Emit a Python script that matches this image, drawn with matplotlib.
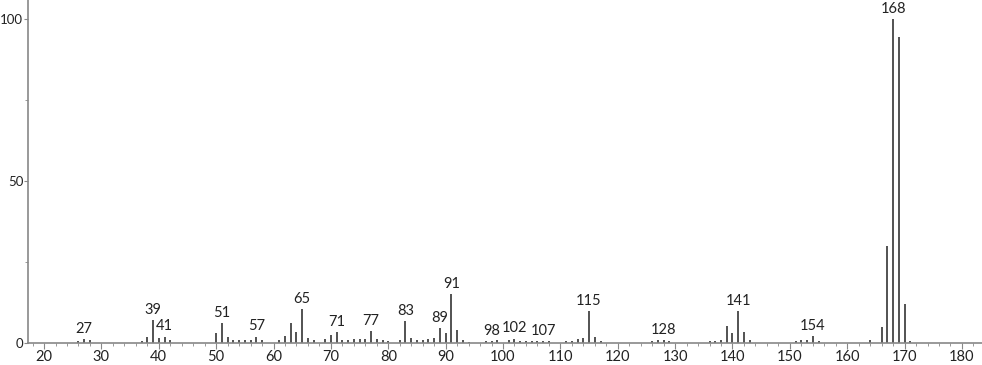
import matplotlib.pyplot as plt
from matplotlib.ticker import MultipleLocator

plt.rcParams['font.family'] = ['Lato', 'DejaVu Sans']

# m/z and relative intensity (%)
mz = [26, 27, 28, 37, 38, 39, 40, 41, 42,
      50, 51, 52, 53, 54, 55, 56, 57, 58,
      61, 62, 63, 64, 65, 66, 67,
      69, 70, 71, 72, 73, 74, 75, 76, 77, 78, 79, 80,
      82, 83, 84, 85, 86, 87, 88, 89, 90, 91, 92, 93, 94,
      97, 98, 99, 101, 102, 103, 104, 105, 106, 107, 108,
      111, 112, 113, 114, 115, 116, 117,
      126, 127, 128, 129,
      136, 137, 138, 139, 140, 141, 142, 143,
      151, 152, 153, 154, 155,
      164, 166, 167, 168, 169, 170, 171]
intensity = [0.8, 1.3, 0.9, 0.5, 1.8, 7.1, 1.5, 2.0, 0.9,
             3.2, 6.2, 1.8, 1.0, 0.9, 0.9, 1.0, 2.0, 0.9,
             1.0, 2.2, 6.3, 3.4, 10.5, 1.5, 0.9,
             1.4, 2.4, 3.4, 0.9, 0.9, 1.4, 1.4, 1.4, 3.6, 1.4, 0.9, 0.5,
             1.0, 6.8, 1.5, 0.9, 1.0, 1.4, 1.5, 4.6, 3.0, 15.1, 3.9, 0.9, 0.4,
             0.5, 0.5, 0.9, 0.9, 1.4, 0.5, 0.5, 0.5, 0.5, 0.5, 0.5,
             0.5, 0.5, 1.4, 1.5, 9.9, 2.0, 0.5,
             0.5, 0.9, 1.0, 0.5,
             0.5, 0.5, 1.0, 5.2, 3.0, 9.9, 3.4, 1.0,
             0.5, 0.9, 0.9, 2.2, 0.5,
             1.0, 4.9, 30.0, 100.0, 94.4, 12.0, 0.8]

labelled = [27, 39, 41, 51, 57, 65, 71, 77, 83, 89, 91, 98, 102, 107,
            115, 128, 141, 154, 168]

fig = plt.figure(figsize=(9.82, 3.65), dpi=100)
ax = fig.add_axes([0.0285, 0.060, 0.9715, 0.94])

ax.vlines(mz, 0, intensity, color='#444444', linewidth=1.3)

peaks = dict(zip(mz, intensity))
for m in labelled:
    ax.text(m, peaks[m] + 1.0, str(m), ha='center', va='bottom',
            fontsize=10.5, color='#222222')

ax.set_xlim(17.2, 183.5)
ax.set_ylim(0, 105.9)

ax.xaxis.set_major_locator(MultipleLocator(10))
ax.xaxis.set_minor_locator(MultipleLocator(2))
ax.yaxis.set_major_locator(MultipleLocator(50))
ax.yaxis.set_minor_locator(MultipleLocator(25))

for s in ['top', 'right']:
    ax.spines[s].set_visible(False)
for s in ['left', 'bottom']:
    ax.spines[s].set_color('#888888')
    ax.spines[s].set_linewidth(1.2)

ax.tick_params(axis='both', which='major', length=4, color='#888888',
               labelsize=10.5, labelcolor='#222222', pad=1)
ax.tick_params(axis='y', which='major', length=3, labelsize=9.5, pad=0.5)
ax.tick_params(axis='both', which='minor', length=2, color='#888888')

fig.savefig('out.png', dpi=100)
